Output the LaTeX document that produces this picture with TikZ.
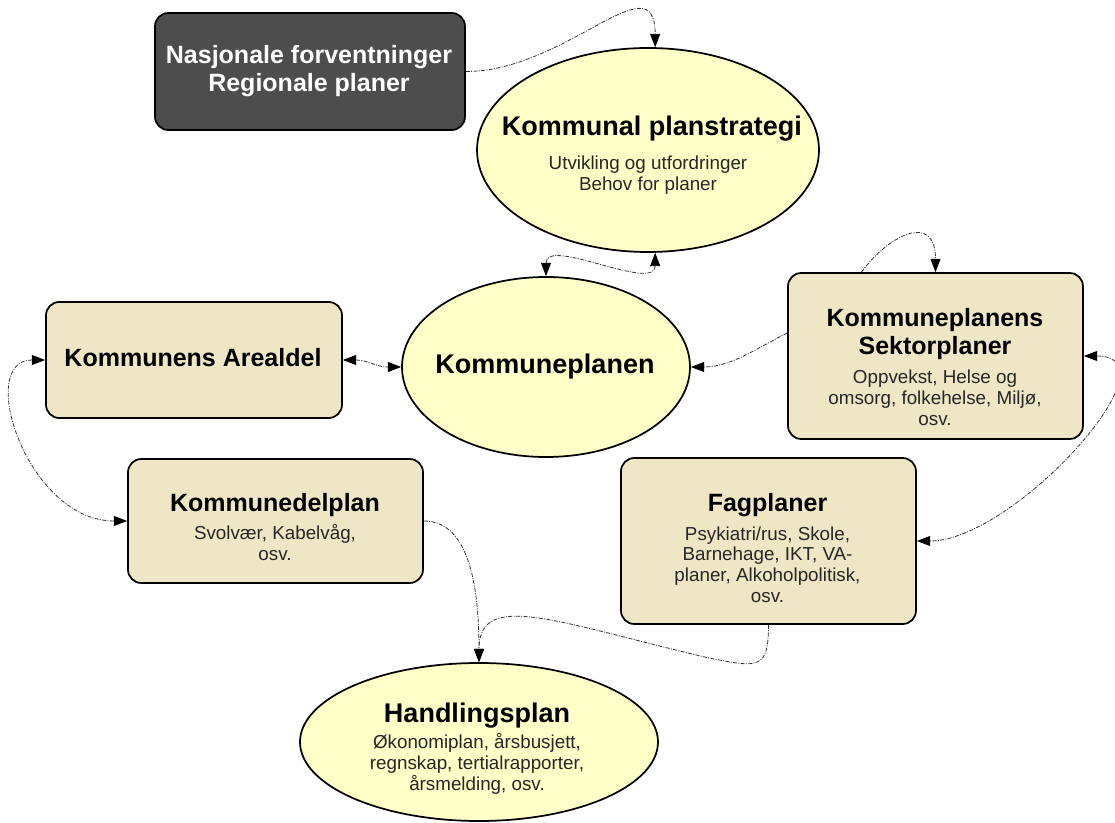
\documentclass[tikz,border=0pt]{standalone}
\usepackage{fontspec}
\setmainfont{Liberation Sans}
\usetikzlibrary{shapes.geometric,arrows.meta}
\definecolor{darkfill}{RGB}{77,77,77}
\definecolor{boxfill}{RGB}{238,230,196}
\definecolor{ellfill}{RGB}{255,255,200}
\newcommand\elltitle{\fontsize{20.25}{24}\selectfont\bfseries}
\newcommand\boxtitle{\fontsize{18.75}{21}\selectfont\bfseries}
\newcommand\plansub{\fontsize{14.1}{15.75}\selectfont}
\begin{document}
\begin{tikzpicture}[x=0.75pt,y=-0.75pt,>={Triangle[length=10pt,width=7.5pt,color=black]}]
                          \tikzstyle{every node}+=[inner sep=0pt]
                          \tikzstyle{planbox}=[draw=black, line width=1.3pt, fill=boxfill, rounded corners=10pt]
                          \tikzstyle{planell}=[ellipse, draw=black, line width=1.3pt, fill=ellfill]
                          \tikzstyle{headtext}=[anchor=base, align=center]
                          \tikzstyle{subtext}=[anchor=base, align=center, font=\plansub, text=black!85]
                          \tikzstyle{planlink}=[line width=0.6pt, black!80, dash pattern=on 3pt off 1pt on 0.75pt off 1pt]
                          \useasboundingbox (0,0) rectangle (1115,823);
                          \node [planbox, fill=darkfill, minimum width=232.5pt, minimum height=87.75pt] (nasj) at (310,71.5) {};
                          \node [headtext, font=\boxtitle, text=white] (nasj-head) at (309,92) {Nasjonale forventninger\\Regionale planer};
                          \node [planell, minimum width=256.5pt, minimum height=153pt] (strat) at (648,150) {};
                          \node [headtext, font=\elltitle] (strat-head) at (652,136) {Kommunal planstrategi};
                          \node [subtext] (strat-sub) at (648,191) {Utvikling og utfordringer\\Behov for planer};
                          \node [planell, minimum width=216pt, minimum height=135pt] (kplan) at (546,367) {};
                          \node [headtext, font=\elltitle] (kplan-head) at (545,374) {Kommuneplanen};
                          \node [planbox, minimum width=222pt, minimum height=87pt] (areal) at (194,360) {};
                          \node [headtext, font=\boxtitle] (areal-head) at (193,367) {Kommunens Arealdel};
                          \node [planbox, minimum width=221.25pt, minimum height=124.5pt] (sektor) at (935.5,356) {};
                          \node [headtext, font=\boxtitle] (sektor-head) at (935,355) {Kommuneplanens\\Sektorplaner};
                          \node [subtext] (sektor-sub) at (935,426) {Oppvekst, Helse og\\omsorg, folkehelse, Miljø,\\osv.};
                          \node [planbox, minimum width=221.25pt, minimum height=93pt] (delplan) at (275.5,521) {};
                          \node [headtext, font=\boxtitle] (delplan-head) at (275,512) {Kommunedelplan};
                          \node [subtext] (delplan-sub) at (275,561) {Svolvær, Kabelvåg,\\osv.};
                          \node [planbox, minimum width=221.25pt, minimum height=124.5pt] (fag) at (768.5,541) {};
                          \node [headtext, font=\boxtitle] (fag-head) at (767.5,512) {Fagplaner};
                          \node [subtext] (fag-sub) at (767.5,603) {Psykiatri/rus, Skole,\\Barnehage, IKT, VA-\\planer, Alkoholpolitisk,\\osv.};
                          \node [planell, minimum width=268.5pt, minimum height=118.5pt] (handling) at (479,742) {};
                          \node [headtext, font=\elltitle] (handling-head) at (477,722) {Handlingsplan};
                          \node [subtext] (handling-sub) at (477,790) {Økonomiplan, årsbusjett,\\regnskap, tertialrapporter,\\årsmelding, osv.};
                          \draw [planlink, ->] (nasj.east) .. controls +(100,0) and +(0,-88) .. (strat.86);
                          \draw [planlink, <->] (kplan.north) .. controls +(0,-40) and +(0,40) .. (strat.-86);
                          \draw [planlink, <->] (areal.east) .. controls +(25,0) and +(-25,0) .. (kplan.west);
                          \draw [planlink, ->] ([shift={(0,-23)}]sektor.west) .. controls +(-30,15) and +(40,0) .. (kplan.east);
                          \draw [planlink, ->] ([shift={(-74,0)}]sektor.north) .. controls +(25,-35) and +(0,-62) .. (sektor.north);
                          \draw [planlink, <->] (sektor.east) .. controls +(97,0) and +(97,0) .. (fag.east);
                          \draw [planlink, <->] (areal.west) .. controls +(-70,0) and +(-100,0) .. (delplan.west);
                          \draw [planlink, ->] (delplan.east) .. controls +(40,0) and +(0,-90) .. (handling.north);
                          \draw [planlink, ->] (fag.south) .. controls +(0,45) and +(50,10) .. +(-60,33) .. controls +(-150,-35) and +(0,-73) .. (handling.north);
                      \end{tikzpicture}
\end{document}
